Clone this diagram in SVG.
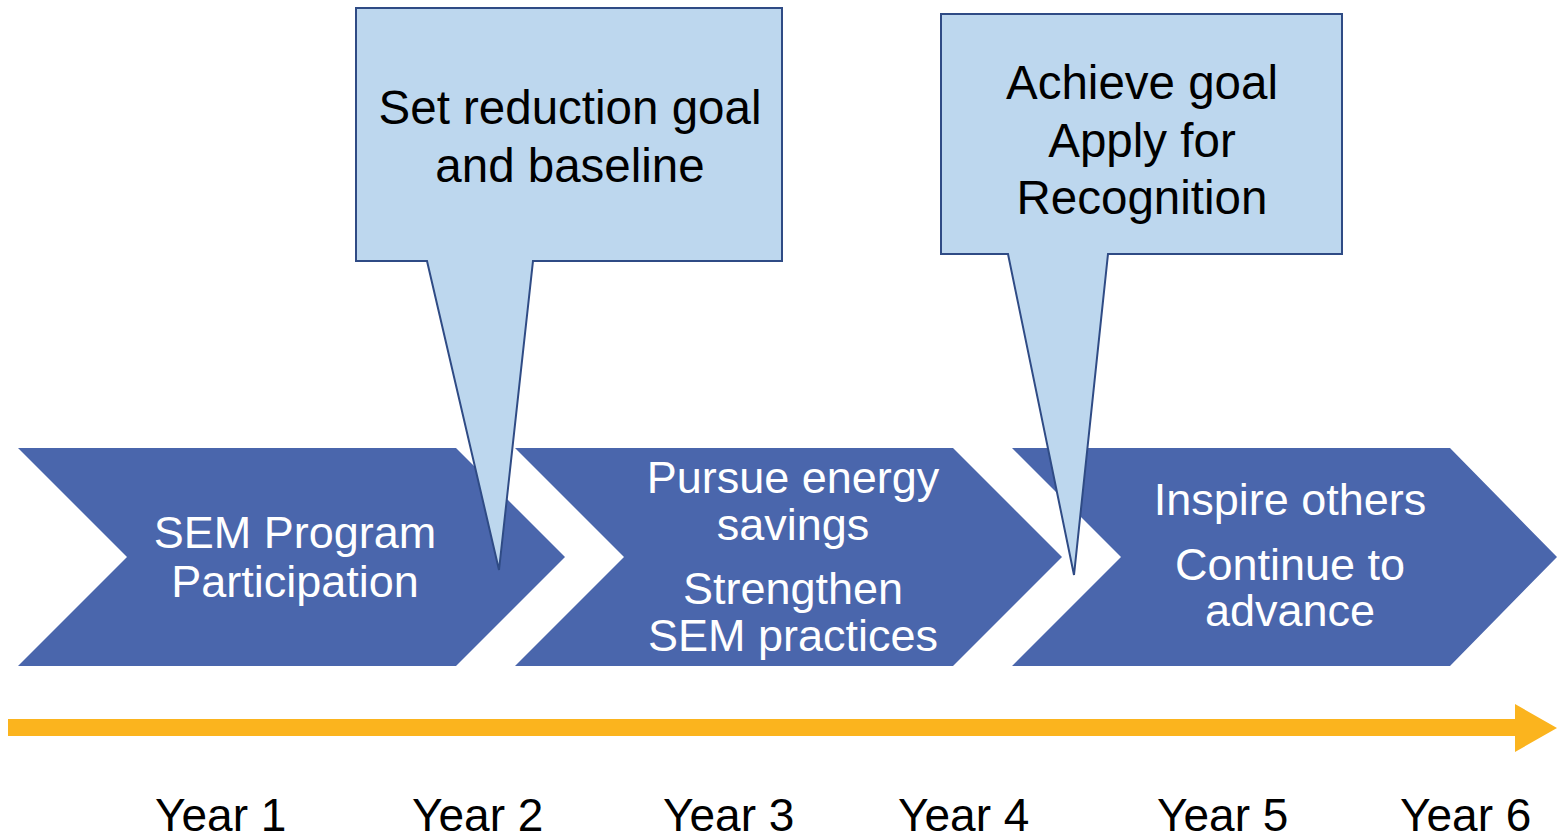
<svg xmlns="http://www.w3.org/2000/svg" width="1557" height="838" viewBox="0 0 1557 838">
<style>
.chev{fill:#4A66AC;}
.call{fill:#BDD7EE;stroke:#2F4B85;stroke-width:2;stroke-linejoin:miter;}
.wt{font-family:"Liberation Sans",Arial,sans-serif;font-size:45px;fill:#FFFFFF;text-anchor:middle;}
.bt{font-family:"Liberation Sans",Arial,sans-serif;font-size:47.5px;fill:#000000;text-anchor:middle;}
.yt{font-family:"Liberation Sans",Arial,sans-serif;font-size:46px;fill:#000000;}
</style>
<rect width="1557" height="838" fill="#FFFFFF"/>
<g id="chevron1">
<polygon class="chev" points="18,448 456,448 565,557 456,666 18,666 127,557"/>
<text class="wt" x="295" y="548">SEM Program</text>
<text class="wt" x="295" y="597">Participation</text>
</g>
<g id="chevron2">
<polygon class="chev" points="515,448 953,448 1062,557 953,666 515,666 624,557"/>
<text class="wt" x="793" y="493">Pursue energy</text>
<text class="wt" x="793" y="540">savings</text>
<text class="wt" x="793" y="604">Strengthen</text>
<text class="wt" x="793" y="651">SEM practices</text>
</g>
<g id="chevron3">
<polygon class="chev" points="1012,448 1450,448 1557,557 1450,666 1012,666 1121,557"/>
<text class="wt" x="1290" y="515">Inspire others</text>
<text class="wt" x="1290" y="580">Continue to</text>
<text class="wt" x="1290" y="626">advance</text>
</g>
<g id="callout1">
<path class="call" d="M356,8 H782 V261 H533 L499,570 L427,261 H356 Z"/>
<text class="bt" x="570" y="124">Set reduction goal</text>
<text class="bt" x="570" y="182">and baseline</text>
</g>
<g id="callout2">
<path class="call" d="M941,14 H1342 V254 H1108 L1074,575 L1008,254 H941 Z"/>
<text class="bt" x="1142" y="99">Achieve goal</text>
<text class="bt" x="1142" y="157">Apply for</text>
<text class="bt" x="1142" y="214">Recognition</text>
</g>
<g id="connectors">
<polygon id="timeline" fill="#FBB41E" points="8,719 1515,719 1515,704 1557,728 1515,752 1515,736 8,736"/>
</g>
<g id="years">
<text class="yt" x="155" y="831">Year 1</text>
<text class="yt" x="412" y="831">Year 2</text>
<text class="yt" x="663" y="831">Year 3</text>
<text class="yt" x="898" y="831">Year 4</text>
<text class="yt" x="1157" y="831">Year 5</text>
<text class="yt" x="1400" y="831">Year 6</text>
</g>
</svg>
